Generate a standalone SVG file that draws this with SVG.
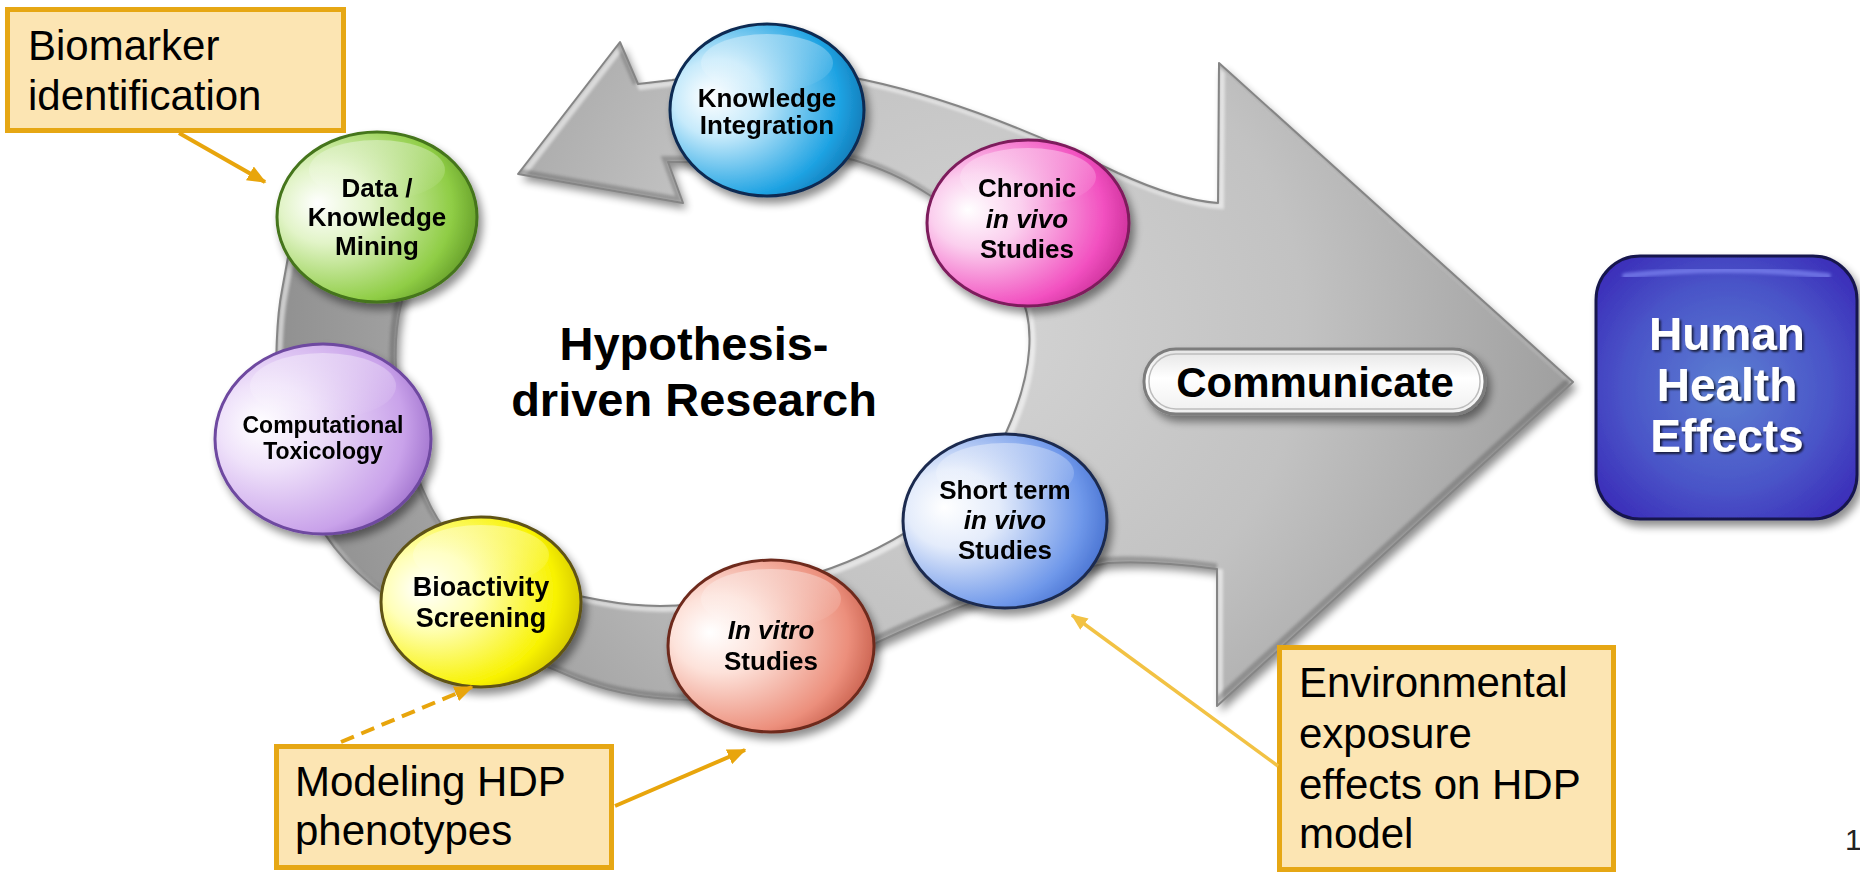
<svg xmlns="http://www.w3.org/2000/svg" width="1860" height="873" viewBox="0 0 1860 873">
  <style>
    .lbl { font-family: "Liberation Sans", Arial, sans-serif; font-weight: bold; font-size: 26px; fill: #000; text-anchor: middle; }
    .note { font-family: "Liberation Sans", Arial, sans-serif; font-size: 42px; fill: #000; }
    .notebox { fill: #FCE5B3; stroke: #E6A714; stroke-width: 5; }
    .ball { stroke-width: 3; }
    .conn { stroke: #E8A50C; stroke-width: 4; fill: none; }
    .it { font-style: italic; }
  </style>
  <defs>
    <filter id="shadow" x="-20%" y="-20%" width="150%" height="150%">
      <feGaussianBlur in="SourceAlpha" stdDeviation="4"/>
      <feOffset dx="4" dy="6" result="b"/>
      <feComponentTransfer><feFuncA type="linear" slope="0.45"/></feComponentTransfer>
      <feMerge><feMergeNode/><feMergeNode in="SourceGraphic"/></feMerge>
    </filter>
    <filter id="soft" x="-5%" y="-5%" width="110%" height="110%">
      <feGaussianBlur stdDeviation="1.5"/>
    </filter>
    <filter id="tshadow" x="-10%" y="-10%" width="130%" height="130%">
      <feGaussianBlur in="SourceAlpha" stdDeviation="1.2"/>
      <feOffset dx="2" dy="2" result="b"/>
      <feComponentTransfer><feFuncA type="linear" slope="0.7"/></feComponentTransfer>
      <feMerge><feMergeNode/><feMergeNode in="SourceGraphic"/></feMerge>
    </filter>
    <!-- outline of the grey cycle arrow and the large right-pointing arrow -->
    <path id="loopShape"
      d="M 518,174 L 620,42 L 638,84 L 672,80
         C 740,70 820,70 865,80
         C 950,98 1040,135 1118,173
         C 1160,192 1190,201 1218,203
         L 1219,63 L 1573,382 L 1217,706 L 1217,569
         C 1180,564 1140,561 1108,563
         C 1040,575 960,605 900,632
         S 760,700 700,700
         S 600,690 560,672
         S 440,630 400,605
         S 325,545 310,505
         S 276,440 276,400
         S 276,320 282,290
         L 292,235 L 430,235
         C 412,265 398,300 396,340
         S 398,440 430,505
         S 520,585 600,600
         S 720,600 800,578
         S 975,500 1005,435
         S 1035,320 1018,290
         S 960,215 931,196
         S 880,168 854,160
         S 720,160 687,162
         L 668,162 L 683,203 Z"/>
    <clipPath id="loopClip"><use href="#loopShape"/></clipPath>
    <radialGradient id="grayFill" gradientUnits="userSpaceOnUse" cx="980" cy="330" r="720">
      <stop offset="0" stop-color="#d4d4d4"/>
      <stop offset="0.45" stop-color="#c2c2c2"/>
      <stop offset="1" stop-color="#8e8e8e"/>
    </radialGradient>
    <linearGradient id="gloss" x1="0" y1="0" x2="0" y2="1">
      <stop offset="0" stop-color="#fff" stop-opacity="0.75"/>
      <stop offset="1" stop-color="#fff" stop-opacity="0"/>
    </linearGradient>
    <radialGradient id="gGreen" cx="0.35" cy="0.45" r="0.75" fx="0.2" fy="0.42">
      <stop offset="0" stop-color="#ffffff"/><stop offset="0.3" stop-color="#e2f4c8"/>
      <stop offset="0.75" stop-color="#8fcd45"/><stop offset="1" stop-color="#4f851b"/>
    </radialGradient>
    <radialGradient id="gBlue" cx="0.35" cy="0.45" r="0.75" fx="0.2" fy="0.42">
      <stop offset="0" stop-color="#ffffff"/><stop offset="0.3" stop-color="#c6eafb"/>
      <stop offset="0.75" stop-color="#1fa3e3"/><stop offset="1" stop-color="#0b65a0"/>
    </radialGradient>
    <radialGradient id="gPink" cx="0.35" cy="0.45" r="0.75" fx="0.2" fy="0.42">
      <stop offset="0" stop-color="#ffffff"/><stop offset="0.3" stop-color="#fbcfee"/>
      <stop offset="0.75" stop-color="#f250c0"/><stop offset="1" stop-color="#b81f86"/>
    </radialGradient>
    <radialGradient id="gLav" cx="0.35" cy="0.45" r="0.75" fx="0.2" fy="0.42">
      <stop offset="0" stop-color="#ffffff"/><stop offset="0.3" stop-color="#efe2fa"/>
      <stop offset="0.75" stop-color="#c9a2ea"/><stop offset="1" stop-color="#8d5cc0"/>
    </radialGradient>
    <radialGradient id="gYellow" cx="0.35" cy="0.45" r="0.75" fx="0.2" fy="0.42">
      <stop offset="0" stop-color="#ffffff"/><stop offset="0.3" stop-color="#ffffb8"/>
      <stop offset="0.75" stop-color="#f8f200"/><stop offset="1" stop-color="#bfae00"/>
    </radialGradient>
    <radialGradient id="gSalmon" cx="0.35" cy="0.45" r="0.75" fx="0.2" fy="0.42">
      <stop offset="0" stop-color="#ffffff"/><stop offset="0.3" stop-color="#fde2da"/>
      <stop offset="0.75" stop-color="#ec8f7c"/><stop offset="1" stop-color="#b84a38"/>
    </radialGradient>
    <radialGradient id="gPeri" cx="0.35" cy="0.45" r="0.75" fx="0.2" fy="0.42">
      <stop offset="0" stop-color="#ffffff"/><stop offset="0.3" stop-color="#e4ecfb"/>
      <stop offset="0.75" stop-color="#6f98ea"/><stop offset="1" stop-color="#355fc4"/>
    </radialGradient>
    <radialGradient id="gHuman" cx="0.5" cy="0.5" r="0.65">
      <stop offset="0" stop-color="#5d80d2"/>
      <stop offset="0.6" stop-color="#4a55c8"/>
      <stop offset="1" stop-color="#3a2bb8"/>
    </radialGradient>
    <linearGradient id="gPill" x1="0" y1="0" x2="0" y2="1">
      <stop offset="0" stop-color="#e4e4e4"/>
      <stop offset="0.45" stop-color="#ffffff"/>
      <stop offset="1" stop-color="#efefef"/>
    </linearGradient>
    <marker id="ah" viewBox="0 0 12 10" refX="11" refY="5" markerWidth="19" markerHeight="16" markerUnits="userSpaceOnUse" orient="auto">
      <path d="M0,0 L12,5 L0,10 z" fill="#E8A50C"/>
    </marker>
    <marker id="ahLight" viewBox="0 0 12 10" refX="11" refY="5" markerWidth="17" markerHeight="14" markerUnits="userSpaceOnUse" orient="auto">
      <path d="M0,0 L12,5 L0,10 z" fill="#F2C244"/>
    </marker>
  </defs>

  <rect width="1860" height="873" fill="#ffffff"/>

  <!-- grey cycle arrow merging into the large "Communicate" arrow -->
  <g id="cycle-arrow">
    <use href="#loopShape" fill="url(#grayFill)" filter="url(#shadow)"/>
    <!-- bevel: light rim on upper-left edges, dark rim on lower-right edges -->
    <g clip-path="url(#loopClip)">
      <use href="#loopShape" transform="translate(3,3)" fill="none" stroke="#ffffff" stroke-width="6" opacity="0.55" filter="url(#soft)"/>
      <use href="#loopShape" transform="translate(-3,-3)" fill="none" stroke="#4a4a4a" stroke-width="6" opacity="0.35" filter="url(#soft)"/>
    </g>
    <use href="#loopShape" fill="none" stroke="#858585" stroke-width="2" stroke-linejoin="round"/>
  </g>

  <!-- centre label -->
  <g id="hypothesis">
    <text class="lbl" style="font-size:47px" x="694" y="360">Hypothesis-</text>
    <text class="lbl" style="font-size:47px" x="694" y="416">driven Research</text>
  </g>

  <!-- Communicate pill -->
  <g id="communicate">
    <rect x="1144" y="349" width="341" height="65" rx="32" fill="url(#gPill)" stroke="#7d7d7d" stroke-width="3" filter="url(#shadow)"/>
    <rect x="1149" y="354" width="331" height="55" rx="27" fill="none" stroke="#bdbdbd" stroke-width="1.5"/>
    <text class="lbl" style="font-size:42px" x="1315" y="397">Communicate</text>
  </g>

  <!-- Human Health Effects -->
  <g id="human-health-effects">
    <rect x="1596" y="256" width="261" height="263" rx="44" fill="url(#gHuman)" stroke="#17174d" stroke-width="3" filter="url(#shadow)"/>
    <path d="M 1625,276 Q 1726,264 1828,276" stroke="#7f86f2" stroke-width="6" fill="none" stroke-linecap="round" opacity="0.7" filter="url(#soft)"/>
    <g filter="url(#tshadow)">
      <text class="lbl" style="font-size:46px;fill:#fff" x="1727" y="350">Human</text>
      <text class="lbl" style="font-size:46px;fill:#fff" x="1727" y="401">Health</text>
      <text class="lbl" style="font-size:46px;fill:#fff" x="1727" y="452">Effects</text>
    </g>
  </g>

  <!-- sphere nodes on the cycle -->
  <g id="data-mining" filter="url(#shadow)">
    <ellipse class="ball" cx="377" cy="217" rx="100" ry="85" fill="url(#gGreen)" stroke="#44741a"/>
    <ellipse cx="377" cy="170" rx="68" ry="30" fill="url(#gloss)" opacity="0.5"/>
    <text class="lbl" x="377" y="197">Data /</text>
    <text class="lbl" x="377" y="226">Knowledge</text>
    <text class="lbl" x="377" y="255">Mining</text>
  </g>

  <g id="knowledge-integration" filter="url(#shadow)">
    <ellipse class="ball" cx="767" cy="110" rx="97" ry="86" fill="url(#gBlue)" stroke="#0d2b52"/>
    <ellipse cx="767" cy="63" rx="66" ry="29" fill="url(#gloss)" opacity="0.5"/>
    <text class="lbl" x="767" y="107">Knowledge</text>
    <text class="lbl" x="767" y="134">Integration</text>
  </g>

  <g id="chronic-in-vivo" filter="url(#shadow)">
    <ellipse class="ball" cx="1028" cy="223" rx="101" ry="83" fill="url(#gPink)" stroke="#7d1b5c"/>
    <ellipse cx="1028" cy="177" rx="68" ry="29" fill="url(#gloss)" opacity="0.5"/>
    <text class="lbl" x="1027" y="197">Chronic</text>
    <text class="lbl it" x="1027" y="228">in vivo</text>
    <text class="lbl" x="1027" y="258">Studies</text>
  </g>

  <g id="computational-toxicology" filter="url(#shadow)">
    <ellipse class="ball" cx="323" cy="439" rx="108" ry="95" fill="url(#gLav)" stroke="#6e48a0"/>
    <ellipse cx="323" cy="386" rx="73" ry="33" fill="url(#gloss)" opacity="0.5"/>
    <text class="lbl" style="font-size:23px" x="323" y="433">Computational</text>
    <text class="lbl" style="font-size:23px" x="323" y="459">Toxicology</text>
  </g>

  <g id="bioactivity-screening" filter="url(#shadow)">
    <ellipse class="ball" cx="481" cy="602" rx="100" ry="85" fill="url(#gYellow)" stroke="#5e5214"/>
    <ellipse cx="481" cy="555" rx="68" ry="30" fill="url(#gloss)" opacity="0.5"/>
    <text class="lbl" style="font-size:27px" x="481" y="596">Bioactivity</text>
    <text class="lbl" style="font-size:27px" x="481" y="627">Screening</text>
  </g>

  <g id="in-vitro" filter="url(#shadow)">
    <ellipse class="ball" cx="771" cy="646" rx="103" ry="86" fill="url(#gSalmon)" stroke="#6e2a1e"/>
    <ellipse cx="771" cy="599" rx="70" ry="30" fill="url(#gloss)" opacity="0.5"/>
    <text class="lbl it" x="771" y="639">In vitro</text>
    <text class="lbl" x="771" y="670">Studies</text>
  </g>

  <g id="short-term-in-vivo" filter="url(#shadow)">
    <ellipse class="ball" cx="1005" cy="521" rx="102" ry="87" fill="url(#gPeri)" stroke="#1b2b4f"/>
    <ellipse cx="1005" cy="473" rx="69" ry="30" fill="url(#gloss)" opacity="0.5"/>
    <text class="lbl" x="1005" y="499">Short term</text>
    <text class="lbl it" x="1005" y="529">in vivo</text>
    <text class="lbl" x="1005" y="559">Studies</text>
  </g>

  <!-- callout boxes -->
  <g id="biomarker-note">
    <rect class="notebox" x="7.5" y="9.5" width="336" height="121"/>
    <text class="note" x="28" y="60">Biomarker</text>
    <text class="note" x="28" y="110">identification</text>
  </g>

  <g id="modeling-note">
    <rect class="notebox" x="276.5" y="746.5" width="335" height="121"/>
    <text class="note" x="295" y="796">Modeling HDP</text>
    <text class="note" x="295" y="845">phenotypes</text>
  </g>

  <g id="environmental-note">
    <rect class="notebox" x="1279.5" y="647.5" width="334" height="222"/>
    <text class="note" x="1299" y="697">Environmental</text>
    <text class="note" x="1299" y="748">exposure</text>
    <text class="note" x="1299" y="799">effects on HDP</text>
    <text class="note" x="1299" y="848">model</text>
  </g>

  <!-- callout pointers -->
  <g id="connectors">
    <line class="conn" x1="179" y1="133" x2="265" y2="182" marker-end="url(#ah)"/>
    <line class="conn" x1="341" y1="742" x2="472" y2="687" stroke-dasharray="14 8" marker-end="url(#ah)"/>
    <line class="conn" x1="615" y1="806" x2="745" y2="750" marker-end="url(#ah)"/>
    <line class="conn" x1="1278" y1="766" x2="1072" y2="615" style="stroke:#F2C244;stroke-width:3.5" marker-end="url(#ahLight)"/>
  </g>

  <!-- page number -->
  <text id="page-number" x="1845" y="850" style="font-family:'Liberation Sans', Arial, sans-serif;font-size:30px;fill:#222">1</text>
</svg>
